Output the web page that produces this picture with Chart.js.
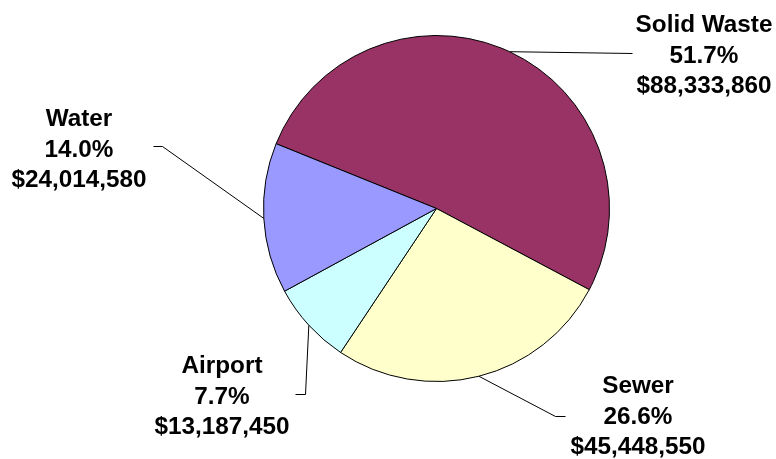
<!DOCTYPE html>
<html>
<head>
<meta charset="utf-8">
<script src="https://cdn.jsdelivr.net/npm/chart.js@4.4.1/dist/chart.umd.min.js"></script>
<style>
  html, body { margin: 0; padding: 0; background: #ffffff; }
  #wrap { width: 776px; height: 459px; }
</style>
</head>
<body>
<div id="wrap"><canvas id="chart-pie" width="776" height="459"></canvas></div>
<script>
const categories = ["Solid Waste", "Sewer", "Airport", "Water"];
const amounts = [88333860, 45448550, 13187450, 24014580];
const percentLabels = ["51.7%", "26.6%", "7.7%", "14.0%"];
const amountLabels = ["$88,333,860", "$45,448,550", "$13,187,450", "$24,014,580"];
const sliceColors = ["#993366", "#FFFFCC", "#CCFFFF", "#9999FF"];

// where each label sits and where its leader line bends (x, y of text centre / elbow / end)
const labelLayout = [
  { x: 704, y: 32, elbow: [632, 53], end: [632, 53] },
  { x: 638, y: 393, elbow: [555, 416], end: [565, 416] },
  { x: 222, y: 373, elbow: [305, 394], end: [295, 394] },
  { x: 79, y: 126, elbow: [162, 146], end: [153, 146] },
];

const ctx = document.getElementById("chart-pie").getContext("2d");

const labelPlugin = {
  id: "pieLabels",
  afterDatasetsDraw: function (chart) {
    const c = chart.ctx;
    const meta = chart.getDatasetMeta(0);
    c.save();
    c.strokeStyle = "#000000";
    c.lineWidth = 1;
    meta.data.forEach((arc, i) => {
      const p = arc.getProps(["x", "y", "startAngle", "endAngle", "outerRadius"], true);
      const mid = (p.startAngle + p.endAngle) / 2;
      const sx = p.x + Math.cos(mid) * p.outerRadius;
      const sy = p.y + Math.sin(mid) * p.outerRadius;
      const lay = labelLayout[i];
      c.beginPath();
      c.moveTo(sx, sy);
      c.lineTo(lay.elbow[0] + 0.5, lay.elbow[1] + 0.5);
      c.lineTo(lay.end[0] + 0.5, lay.end[1] + 0.5);
      c.stroke();
    });
    c.fillStyle = "#000000";
    c.font = "bold 24.3px 'Liberation Sans', Arial, sans-serif";
    c.textAlign = "center";
    c.textBaseline = "alphabetic";
    categories.forEach((name, i) => {
      const lay = labelLayout[i];
      c.fillText(name, lay.x, lay.y);
      c.fillText(percentLabels[i], lay.x, lay.y + 30.5);
      c.fillText(amountLabels[i], lay.x, lay.y + 61);
    });
    c.restore();
  },
};

const pieChart = new Chart(ctx, {
  type: "pie",
  data: {
    labels: categories,
    datasets: [
      {
        data: amounts,
        backgroundColor: sliceColors,
        borderColor: "#000000",
        borderWidth: 1,
        hoverOffset: 0,
      },
    ],
  },
  options: {
    responsive: false,
    animation: false,
    rotation: -68,
    layout: {
      padding: { top: 35, bottom: 77, left: 263, right: 166 },
    },
    plugins: {
      legend: { display: false },
      tooltip: { enabled: false },
    },
  },
  plugins: [labelPlugin],
});
</script>
</body>
</html>
